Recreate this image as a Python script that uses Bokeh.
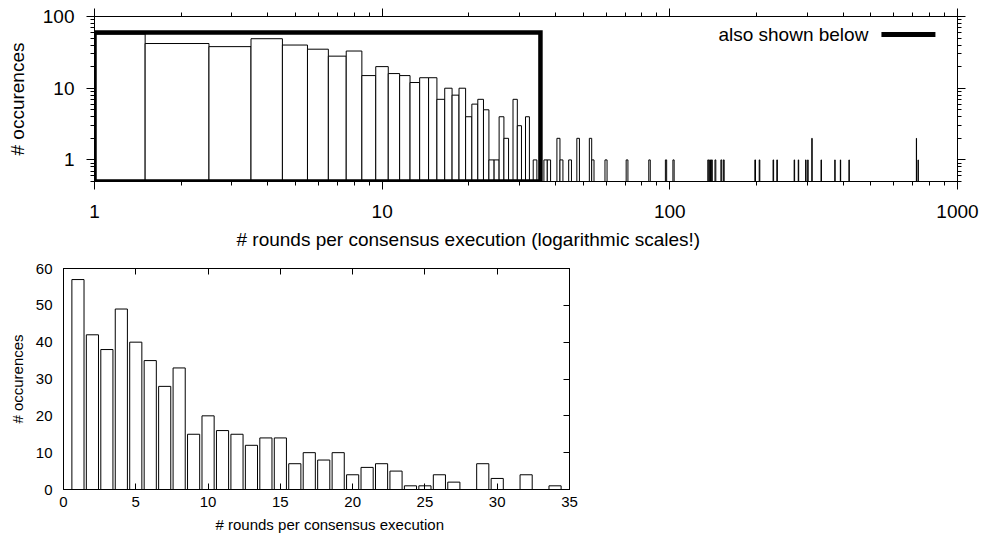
from bokeh.plotting import figure
from bokeh.models import LogAxis, LinearAxis, FixedTicker, Range1d, Label, PrintfTickFormatter, Title
from bokeh.embed import file_html
from bokeh.resources import INLINE

FONT = "Liberation Sans"

# ---- data ----
rounds = list(range(1, 35))
counts = [57, 42, 38, 49, 40, 35, 28, 33, 15, 20, 16, 15, 12, 14, 14, 7, 10, 8, 10, 4,
          6, 7, 5, 1, 1, 4, 2, 0, 7, 3, 0, 4, 0, 1]
tail_rounds = [37, 38, 41, 42, 45, 48, 53, 54, 60, 71, 85, 97, 103, 136, 138, 140, 144, 151,
               154, 198, 205, 229, 236, 271, 280, 297, 302, 312, 336, 375, 392, 420, 720, 730]
tail_counts = [1, 1, 2, 1, 1, 2, 2, 1, 1, 1, 1, 1, 1, 1, 1, 1, 1, 1,
               1, 1, 1, 1, 1, 1, 1, 1, 1, 2, 1, 1, 1, 1, 2, 1]

log_x_ticks = [1, 10, 100, 1000]
log_y_ticks = [1, 10, 100]
lin_x_ticks = [0, 5, 10, 15, 20, 25, 30, 35]
lin_y_ticks = [0, 10, 20, 30, 40, 50, 60]

top_x_title = "# rounds per consensus execution (logarithmic scales!)"
bottom_x_title = "# rounds per consensus execution"
y_title = "# occurences"
legend_text = "also shown below"
highlight_box = dict(left=1.0, right=35.5, bottom=0.5, top=60)

all_r = rounds + tail_rounds
all_c = counts + tail_counts
log_r = [r for r, c in zip(all_r, all_c) if c > 0]
log_c = [c for c in all_c if c > 0]


def minor_log(lo, hi):
    return [m * 10 ** k for k in range(lo, hi) for m in range(2, 10)]


def style_axis(ax, size, labels=True, tin=0, tout=0, min_in=0, min_out=0, standoff=8):
    ax.axis_line_color = "black"
    ax.axis_line_width = 1
    ax.major_tick_line_color = "black"
    ax.minor_tick_line_color = "black"
    ax.major_tick_in = tin
    ax.major_tick_out = tout
    ax.minor_tick_in = min_in
    ax.minor_tick_out = min_out
    ax.major_label_text_font = FONT
    ax.major_label_text_color = "black"
    ax.axis_label_text_font = FONT
    ax.axis_label_text_font_style = "normal"
    ax.axis_label_text_color = "black"
    ax.axis_label_text_font_size = size
    if labels:
        ax.major_label_text_font_size = size
        ax.major_label_standoff = standoff
    else:
        ax.major_label_text_font_size = "1px"
        ax.major_label_text_alpha = 0
        ax.major_label_standoff = 0


# ---- top (log-log) ----
TOP_FS = "19px"
top = figure(width=982, height=260, x_axis_type="log", y_axis_type="log",
             x_range=Range1d(1, 1000), y_range=Range1d(0.5, 100),
             output_backend="svg", toolbar_location=None,
             min_border_left=94, min_border_right=25, min_border_top=16, min_border_bottom=79)
top.xgrid.visible = False
top.ygrid.visible = False
top.outline_line_color = "black"
top.background_fill_color = "white"

top.quad(left=[r - 0.5 for r in log_r], right=[r + 0.5 for r in log_r],
         bottom=0.01, top=log_c, fill_color="white", line_color="black", line_width=1)

top.quad(left=[highlight_box["left"]], right=[highlight_box["right"]],
         bottom=[highlight_box["bottom"]], top=[highlight_box["top"]],
         fill_color=None, line_color="black", line_width=4.5, line_join="miter")

xt = FixedTicker(ticks=log_x_ticks, minor_ticks=minor_log(0, 3))
yt = FixedTicker(ticks=log_y_ticks, minor_ticks=minor_log(-1, 2))

xb = top.xaxis[0]
xb.ticker = xt
xb.formatter = PrintfTickFormatter(format="%d")
style_axis(xb, TOP_FS, True, tout=8, min_out=4, standoff=15)

yl = top.yaxis[0]
yl.ticker = yt
yl.formatter = PrintfTickFormatter(format="%d")
yl.axis_label = y_title
style_axis(yl, TOP_FS, True, tout=8, min_out=4, standoff=12)
yl.axis_label_standoff = 12

xa = LogAxis(ticker=xt)
style_axis(xa, TOP_FS, False, tout=8, min_out=4)
top.add_layout(xa, "above")
yr = LogAxis(ticker=yt)
style_axis(yr, TOP_FS, False, tout=8, min_out=4)
top.add_layout(yr, "right")

top.add_layout(Title(text=top_x_title, align="left", offset=142, standoff=12,
                     text_font=FONT, text_font_size=TOP_FS, text_font_style="normal",
                     text_color="black"), "below")

top.add_layout(Label(x=490, y=56.2, text=legend_text, text_align="right", text_baseline="middle",
                     text_font=FONT, text_font_size=TOP_FS, text_color="black"))
top.line(x=[544, 838], y=[56.2, 56.2], line_color="black", line_width=5)

# ---- bottom (linear) ----
BOT_FS = "15px"
bot = figure(width=589, height=279, x_range=Range1d(0, 35), y_range=Range1d(0, 60),
             output_backend="svg", toolbar_location=None,
             min_border_left=63, min_border_right=20, min_border_top=8, min_border_bottom=50)
bot.xgrid.visible = False
bot.ygrid.visible = False
bot.outline_line_color = "black"

bot.vbar(x=rounds, top=counts, width=0.84, bottom=0, fill_color="white",
         line_color="black", line_width=1)

lxt = FixedTicker(ticks=lin_x_ticks, minor_ticks=[])
lyt = FixedTicker(ticks=lin_y_ticks, minor_ticks=[])

bx = bot.xaxis[0]
bx.ticker = lxt
style_axis(bx, BOT_FS, True, tin=6, standoff=7)

by = bot.yaxis[0]
by.ticker = lyt
by.axis_label = y_title
style_axis(by, BOT_FS, True, standoff=11)
by.axis_label_standoff = 7

bxa = LinearAxis(ticker=lxt)
style_axis(bxa, BOT_FS, False, tin=6)
bot.add_layout(bxa, "above")
byr = LinearAxis(ticker=lyt)
style_axis(byr, BOT_FS, False, tin=6)
bot.add_layout(byr, "right")

bot.add_layout(Title(text=bottom_x_title, align="left", offset=152, standoff=9,
                     text_font=FONT, text_font_size=BOT_FS, text_font_style="normal",
                     text_color="black"), "below")

open("out.html", "w").write(file_html([top, bot], INLINE))
